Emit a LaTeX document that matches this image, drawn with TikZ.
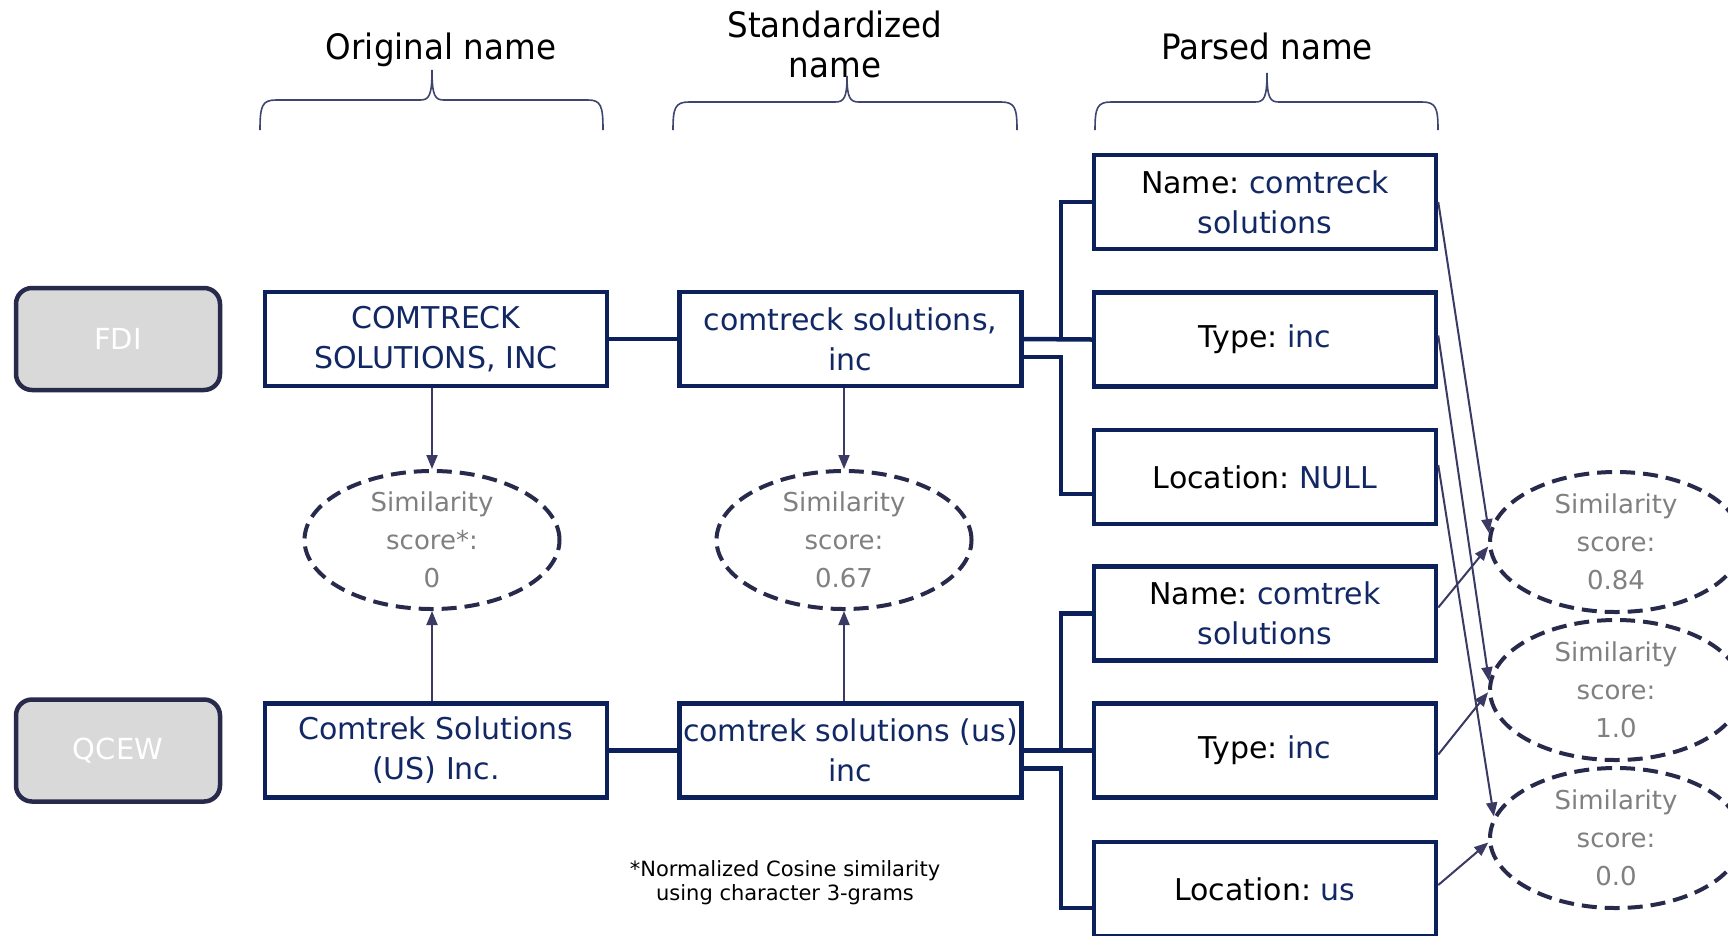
\documentclass[tikz,border=0pt]{standalone}
\usepackage{fontspec}
\setmainfont{DejaVu Sans}
\newfontfamily\headfont{DejaVu Sans}[FakeStretch=0.93]
\frenchspacing
\usetikzlibrary{arrows.meta,shapes.geometric}
\definecolor{navy}{RGB}{12,32,92}
\definecolor{boxtxt}{RGB}{18,40,100}
\definecolor{slate}{RGB}{58,58,100}
\definecolor{dashc}{RGB}{40,42,75}
\definecolor{graytxt}{RGB}{128,128,128}
\definecolor{boxgray}{RGB}{217,217,217}
\definecolor{bracec}{RGB}{62,70,112}
\tikzset{
  namebox/.style={draw=navy, line width=4.5pt, minimum width=342pt, minimum height=94pt,
    align=center, text=boxtxt, inner sep=0pt, font=\frenchspacing\fontsize{30}{40}\selectfont},
  srcbox/.style={draw=dashc, fill=boxgray, line width=4.5pt, rounded corners=16pt,
    minimum width=204pt, minimum height=102pt, text=white, font=\fontsize{29}{34}\selectfont},
  simell/.style={ellipse, draw=dashc, line width=4pt, dash pattern=on 15pt off 8pt,
    minimum width=255pt, minimum height=138pt, inner sep=0pt, align=center,
    text=graytxt, font=\fontsize{26}{38}\selectfont},
  header/.style={align=center, text=black, font=\headfont\fontsize{35}{40}\selectfont},
  bus/.style={draw=navy, line width=4.5pt},
  arr/.style={draw=slate, line width=2pt, -{Triangle[length=14pt,width=11pt]}},
  bracel/.style={draw=bracec, line width=1.6pt},
}
\begin{document}
\begin{tikzpicture}[x=1pt,y=-1pt]
\useasboundingbox (0,0) rectangle (1728,935);
\fill[white] (0,0) rectangle (1728,935);

% headers
\node[header] (hOrig) at (441,50) {Original name};
\node[header] (hStd) at (835,44) {Standardized\\name};
\node[header] (hPar) at (1267,46) {Parsed name};

% braces
\draw[bracel] (260,130) .. controls (260,106) and (262,100) .. (276,100) -- (420,100)
  .. controls (429,100) and (432,96) .. (432,70)
  .. controls (432,96) and (435,100) .. (444,100) -- (588,100)
  .. controls (601,100) and (603,106) .. (603,130);
\draw[bracel] (673,130) .. controls (673,108) and (675,102) .. (689,102) -- (835,102)
  .. controls (844,102) and (847,98) .. (847,76)
  .. controls (847,98) and (850,102) .. (859,102) -- (1001,102)
  .. controls (1015,102) and (1017,108) .. (1017,130);
\draw[bracel] (1095,130) .. controls (1095,108) and (1097,102) .. (1111,102) -- (1255,102)
  .. controls (1264,102) and (1267,98) .. (1267,73)
  .. controls (1267,98) and (1270,102) .. (1279,102) -- (1422,102)
  .. controls (1436,102) and (1438,108) .. (1438,130);

% source boxes
\node[srcbox] (fdi) at (118,339) {FDI};
\node[srcbox] (qcew) at (118,750.5) {QCEW};

% original / standardized
\node[namebox] (orig1) at (436,339) {COMTRECK\\SOLUTIONS, INC};
\node[namebox] (std1) at (850.5,339) {comtreck solutions,\\inc};
\node[namebox] (orig2) at (436,750.5) {Comtrek Solutions\\(US) Inc.};
\node[namebox] (std2) at (850.5,750.5) {comtrek solutions (us)\\inc};

% parsed
\node[namebox] (name1) at (1265,202) {\textcolor{black}{Name:} comtreck\\solutions};
\node[namebox] (type1) at (1265,339.5) {\textcolor{black}{Type:} inc};
\node[namebox] (loc1) at (1265,477) {\textcolor{black}{Location:} NULL};
\node[namebox] (name2) at (1265,613.5) {\textcolor{black}{Name:} comtrek\\solutions};
\node[namebox] (type2) at (1265,750.5) {\textcolor{black}{Type:} inc};
\node[namebox] (loc2) at (1265,889) {\textcolor{black}{Location:} us};

% similarity ellipses
\node[simell] (s1) at (432,540) {Similarity\\score*:\\0};
\node[simell] (s2) at (844,540) {Similarity\\score:\\0.67};
\node[simell, minimum width=252pt, minimum height=140pt] (r1) at (1616,542) {Similarity\\score:\\0.84};
\node[simell, minimum width=252pt, minimum height=140pt] (r2) at (1616,690) {Similarity\\score:\\1.0};
\node[simell, minimum width=252pt, minimum height=140pt] (r3) at (1616,838) {Similarity\\score:\\0.0};

% footnote
\node[align=center, font=\fontsize{21}{24}\selectfont] (foot) at (785,883) {*Normalized Cosine similarity\\using character 3-grams};

% horizontal links
\draw[bus] (orig1.east) -- (std1.west);
\draw[bus] (orig2.east) -- (std2.west);

% bus to parsed boxes (top)
\draw[bus] (std1.east) -- ++(37,0) |- (name1.west);
\draw[bus] (std1.east) -- (type1.west);
\draw[bus] ([yshift=-18pt]std1.east) -- ++(37,0) |- ([yshift=-17pt]loc1.west);
% bottom
\draw[bus] (std2.east) -- ++(37,0) |- (name2.west);
\draw[bus] (std2.east) -- (type2.west);
\draw[bus] ([yshift=-18pt]std2.east) -- ++(37,0) |- ([yshift=-19pt]loc2.west);

% vertical arrows
\draw[arr] (orig1.south -| s1.north) -- (s1.north);
\draw[arr] (std1.south -| s2.north) -- (s2.north);
\draw[arr] (orig2.north -| s1.south) -- (s1.south);
\draw[arr] (std2.north -| s2.south) -- (s2.south);

% diagonal arrows
\draw[arr] (name1.east) -- (r1.176);
\draw[arr] ([yshift=4pt]type1.east) -- (r2.176);
\draw[arr] ([yshift=12pt]loc1.east) -- (r3.170);
\draw[arr] ([yshift=6pt]name2.east) -- (r1.182);
\draw[arr] ([yshift=-4pt]type2.east) -- (r2.181);
\draw[arr] ([yshift=4pt]loc2.east) -- (r3.182);
\end{tikzpicture}
\end{document}
